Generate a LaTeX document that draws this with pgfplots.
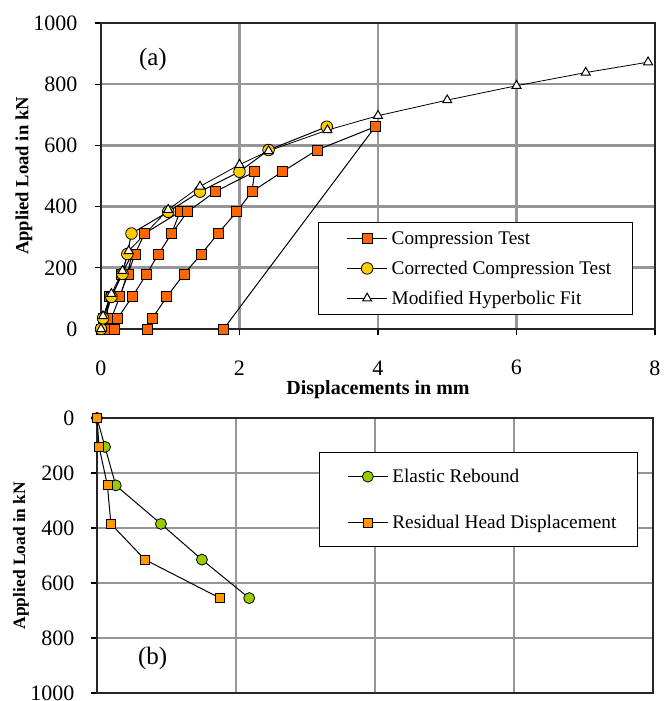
\documentclass[border=0pt]{standalone}
\usepackage{fontspec}
\setmainfont{Liberation Serif}
\usepackage{pgfplots}
\pgfplotsset{compat=1.18}
\definecolor{sqorange}{HTML}{FF6600}
\definecolor{circyellow}{HTML}{FFCC00}
\definecolor{resorange}{HTML}{FF9900}
\definecolor{elgreen}{HTML}{99CC00}
\definecolor{gridgray}{HTML}{969696}

\pgfplotstableread{
x y
0 0
0.04 35
0.12 105
0.08 35
0.03 0
0.06 35
0.15 105
0.30 180
0.45 245
0.38 180
0.27 105
0.15 35
0.11 0
0.15 35
0.27 105
0.39 180
0.49 245
0.63 312
1.14 383
1.02 312
0.83 245
0.66 180
0.45 105
0.24 35
0.20 0
0.24 35
0.45 105
0.66 180
0.83 245
1.02 312
1.25 383
1.65 449
2.22 514
2.18 449
1.96 383
1.69 312
1.45 245
1.20 180
0.95 105
0.74 35
0.67 0
0.74 35
0.95 105
1.20 180
1.45 245
1.69 312
1.96 383
2.18 449
2.62 514
3.12 585
3.96 661
1.77 0
}\compression

\pgfplotstableread{
x y
0 0
0.03 35
0.15 105
0.31 180
0.38 245
0.44 312
0.97 383
1.43 449
2.00 514
2.42 585
3.26 661
}\corrected

\pgfplotstableread{
x y
0 0
0.03 42
0.15 115
0.31 190
0.40 255
0.97 390
1.43 466
2.00 537
2.42 582
3.27 650
4.00 697
5.00 748
6.00 795
7.00 838
7.90 872
}\hyperbolic

\pgfplotstableread{
x y
0 0
0.115 105
0.27 245
0.92 385
1.51 515
2.19 655
}\elastic

\pgfplotstableread{
x y
0 0
0.03 105
0.15 245
0.20 385
0.69 515
1.77 655
}\residual

\pgfplotsset{
 myaxis/.style={
  scale only axis, clip=false,
  xmin=0,xmax=8,ymin=0,ymax=1000,
  grid=major, grid style={gridgray, line width=1.3pt},
  axis line style={black!85, line width=1.2pt},
  tick align=outside, tick pos=left, major tick length=3pt,
  tick style={black, line width=0.6pt},
  /pgf/number format/assume math mode=true,
  /pgf/number format/1000 sep={},
  ticklabel style={font=\fontsize{11}{13}\selectfont},
  legend cell align=left,
  legend image code/.code={\path (-4pt,0pt); \draw[mark repeat=2,mark phase=2] plot coordinates {(0pt,0pt) (10pt,0pt) (20pt,0pt)};},
 }
}

\begin{document}
\begin{tikzpicture}
\begin{axis}[myaxis,
  at={(0pt,0pt)}, anchor=south west,
  width=277pt, height=153pt,
  xtick={0,2,...,8}, ytick={0,200,...,1000},
  xticklabel style={anchor=center, yshift=-16.4pt},
  yticklabel style={xshift=-5.3pt},
  xlabel={\bfseries Displacements in mm},
  ylabel={\bfseries Applied Load in kN},
  xlabel style={at={(axis description cs:0.5,0)}, anchor=center, yshift=-30.5pt, font=\fontsize{10}{12}\selectfont},
  ylabel style={at={(axis description cs:0,0.5)}, anchor=center, yshift=38.5pt, font=\fontsize{9.3}{11}\selectfont},
  legend style={at={(rel axis cs:0.392,0.35)}, anchor=north west, draw=black, line width=0.5pt, fill=white,
    inner xsep=10pt, inner ysep=2.5pt, row sep=4pt, column sep=1.5pt,
    nodes={inner sep=0.5pt, text height=8pt, text depth=2pt},
    font=\fontsize{9.65}{11}\selectfont},
]
\addplot[black, line width=0.5pt, mark=square*, mark size=2.5pt, mark options={fill=sqorange, draw=black, line width=0.4pt}] table {\compression};
\addlegendentry{Compression Test}
\addplot[black, line width=0.5pt, mark=*, mark size=2.9pt, mark options={fill=circyellow, draw=black, line width=0.4pt}] table {\corrected};
\addlegendentry{Corrected Compression Test}
\addplot[black, line width=0.4pt, mark=triangle*, mark size=2.6pt, mark options={fill=white, draw=black, line width=0.5pt}] table {\hyperbolic};
\addlegendentry{Modified Hyperbolic Fit}
\node[font=\fontsize{12.5}{14}\selectfont] at (axis cs:0.75,882) {(a)};
\end{axis}

\begin{axis}[myaxis,
  at={(-2pt,-182pt)}, anchor=south west,
  width=278pt, height=137.5pt,
  y dir=reverse,
  xtick={0,2,...,8}, xticklabels={}, x tick style={draw=none},
  ytick={0,200,...,1000},
  yticklabel style={xshift=-4.8pt},
  ylabel={\bfseries Applied Load in kN},
  ylabel style={at={(axis description cs:0,0.5)}, anchor=center, yshift=38pt, font=\fontsize{8.7}{10}\selectfont},
  legend style={at={(rel axis cs:0.399,0.876)}, anchor=north west, draw=black, line width=0.5pt, fill=white,
    inner xsep=10pt, inner ysep=6.5pt, row sep=12pt, column sep=1.5pt,
    nodes={inner sep=0.5pt, text height=8pt, text depth=2pt},
    font=\fontsize{9.65}{11}\selectfont},
]
\addplot[black, line width=0.5pt, mark=*, mark size=2.75pt, mark options={fill=elgreen, draw=black, line width=0.4pt}] table {\elastic};
\addlegendentry{Elastic Rebound}
\addplot[black, line width=0.5pt, mark=square*, mark size=2.25pt, mark options={fill=resorange, draw=black, line width=0.4pt}] table {\residual};
\addlegendentry{Residual Head Displacement}
\node[font=\fontsize{12.5}{14}\selectfont] at (axis cs:0.8,873) {(b)};
\end{axis}
\pgfresetboundingbox
\path[use as bounding box] (-50.5pt,164.5pt) rectangle (284.5pt,-186pt);
\end{tikzpicture}
\end{document}
